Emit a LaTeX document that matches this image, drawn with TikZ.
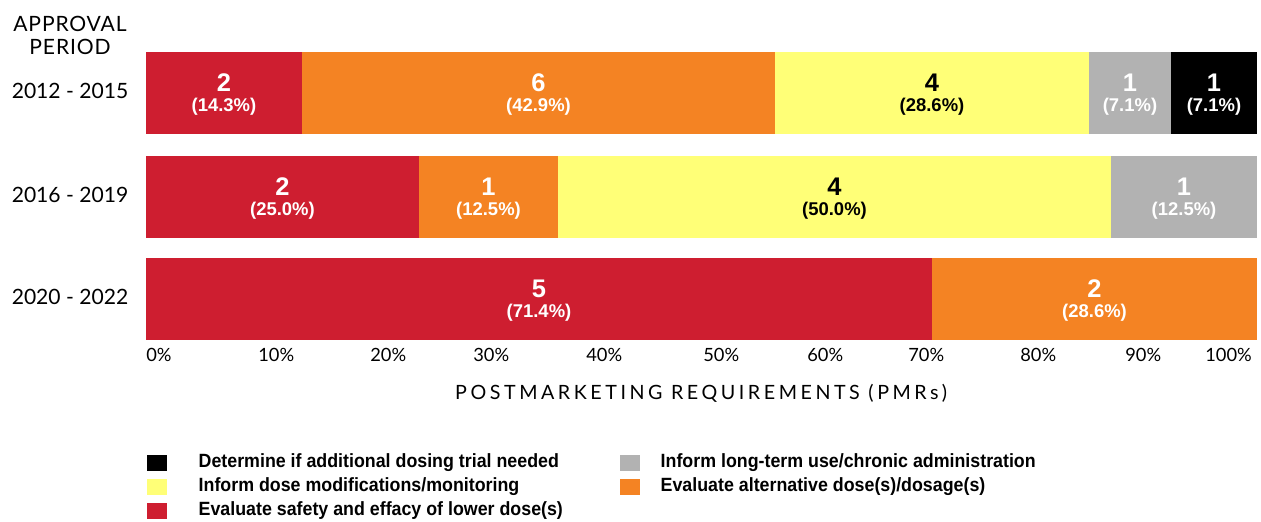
\documentclass[tikz,border=0pt]{standalone}
\usepackage{fontspec}
\usepackage{tikz}
\usetikzlibrary{positioning, calc}
\usepackage{xcolor}
\newfontfamily\axisfont{Lato}
\newfontfamily\barfont{Liberation Sans}
\newfontfamily\legfont[FakeStretch=0.93]{Liberation Sans}
\definecolor{pmrred}{RGB}{206, 30, 48}
\definecolor{pmrorange}{RGB}{244, 131, 35}
\definecolor{pmryellow}{RGB}{255, 255, 119}
\definecolor{pmrgray}{RGB}{178, 178, 178}
\definecolor{pmrblack}{RGB}{0, 0, 0}
\tikzset{
  count/.style={font=\barfont\bfseries\fontsize{14.5}{14.5}\selectfont, inner sep=0pt},
  share/.style={font=\barfont\bfseries\fontsize{10.5}{10.5}\selectfont, inner sep=0pt},
  tick/.style={font=\axisfont\fontsize{10.4}{10.4}\selectfont, inner sep=0pt, anchor=west},
  period/.style={font=\axisfont\fontsize{12}{12}\selectfont, inner sep=0pt},
  legbox/.style={minimum width=20*0.02cm, minimum height=16*0.02cm, inner sep=0pt},
  legtext/.style={font=\legfont\bfseries\fontsize{10.9}{10.9}\selectfont, inner sep=0pt, anchor=west}
}

\begin{document}
\begin{tikzpicture}[x=0.02cm, y=-0.02cm]
\useasboundingbox (0,0) rectangle (1261,521);

% Axis title on the left
\node[period, font=\axisfont\addfontfeature{LetterSpace=4}\fontsize{12}{12}\selectfont] (ttl1) at (70,24) {APPROVAL};
\node[period, font=\axisfont\addfontfeature{LetterSpace=4}\fontsize{12}{12}\selectfont] (ttl2) at (70,47) {PERIOD};

% Bars: top/bottom, segments as left/right/colour/text colour/count/share
\foreach \top/\bot/\yr [count=\r] in {52/134/2012 - 2015, 156/238/2016 - 2019, 258/340/2020 - 2022} {
    \node[period] (yr\r) at (70,{(\top+\bot)/2-2}) {\yr};
}
\foreach \top/\a/\b/\col/\txt/\n/\p [count=\k] in {
    52/146/302/pmrred/white/2/14.3, 52/302/775/pmrorange/white/6/42.9,
    52/775/1089/pmryellow/black/4/28.6, 52/1089/1171/pmrgray/white/1/7.1,
    52/1171/1257/pmrblack/white/1/7.1,
    156/146/419/pmrred/white/2/25.0, 156/419/558/pmrorange/white/1/12.5,
    156/558/1111/pmryellow/black/4/50.0, 156/1111/1257/pmrgray/white/1/12.5,
    258/146/932/pmrred/white/5/71.4, 258/932/1257/pmrorange/white/2/28.6} {
    \fill[\col] (\a,\top) rectangle (\b,\top+82);
    \node[count, text=\txt] (n\k) at ({(\a+\b)/2},\top+31) {\n};
    \node[share, text=\txt] (p\k) at ({(\a+\b)/2},\top+55) {(\p\%)};
}

% Percent scale
\foreach \x/\v [count=\i] in {146/0, 258/10, 370/20, 473/30, 586/40, 703/50, 807/60, 908/70, 1020/80, 1125/90, 1205/100} {
    \node[tick] (t\i) at (\x,355) {\v\%};
}
\node[font=\axisfont\addfontfeature{LetterSpace=18}\fontsize{11.2}{11.2}\selectfont, inner sep=0pt] (xlab) at (701,393) {POSTMARKETING REQUIREMENTS (PMRs)};

% Legend
\node[legbox, fill=pmrblack] (k1) at (157,463) {};
\node[legtext, right=31*0.02cm of k1] (l1) {Determine if additional dosing trial needed};
\node[legbox, fill=pmryellow] (k2) at (157,487) {};
\node[legtext, right=31*0.02cm of k2] (l2) {Inform dose modifications/monitoring};
\node[legbox, fill=pmrred] (k3) at (157,511) {};
\node[legtext, right=31*0.02cm of k3] (l3) {Evaluate safety and effacy of lower dose(s)};
\node[legbox, fill=pmrgray] (k4) at (630,463) {};
\node[legtext, right=20*0.02cm of k4] (l4) {Inform long-term use/chronic administration};
\node[legbox, fill=pmrorange] (k5) at (630,487) {};
\node[legtext, right=20*0.02cm of k5] (l5) {Evaluate alternative dose(s)/dosage(s)};
\end{tikzpicture}
\end{document}
